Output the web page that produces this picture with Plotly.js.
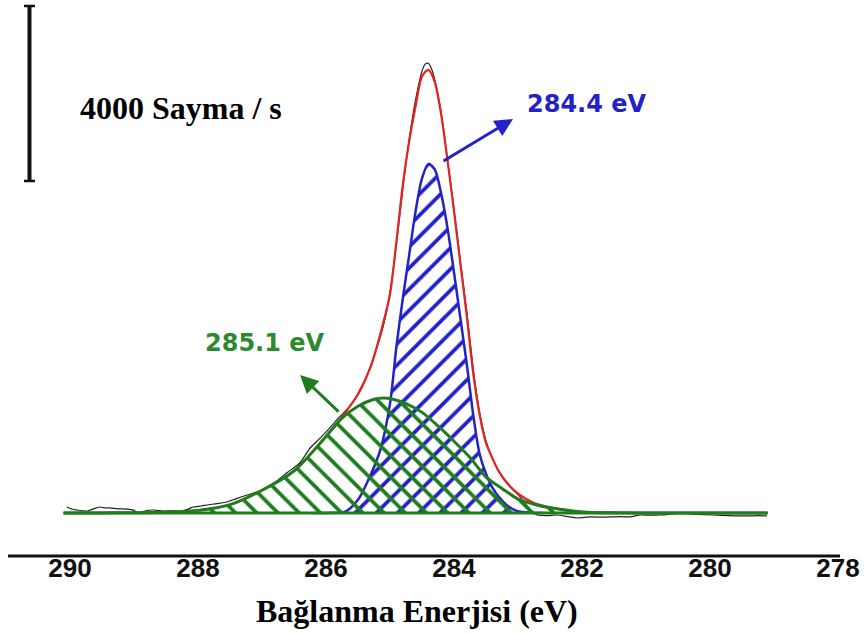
<!DOCTYPE html>
<html>
<head>
<meta charset="utf-8">
<script src="https://cdn.plot.ly/plotly-3.0.1.min.js"></script>
<style>html,body{margin:0;padding:0;background:#fff;}#chart{width:867px;height:634px;}</style>
</head>
<body>
<div id="chart"></div>
<script>
// Binding energy (eV) and intensity (counts above background)
const blackX = [290.05,289.95,289.89,289.8,289.73,289.6,289.53,289.45,289.375,289.25,289.11,289.0,288.94,288.85,288.7,288.55,288.4,288.28,288.15,288.08,287.95,287.86,287.7,287.55,287.4,287.23,287.1,286.98,286.8,286.6,286.41,286.25,286.1,285.95,285.8,285.65,285.5,285.4,285.3,285.2,285.1,285.0,284.9,284.8,284.7,284.6,284.5,284.45,284.4,284.35,284.3,284.2,284.1,284.0,283.9,283.8,283.7,283.6,283.5,283.4,283.3,283.15,283.0,282.9,282.81,282.7,282.55,282.39,282.2,282.08,281.875,281.7,281.52,281.4,281.25,281.09,280.95,280.78,280.6,280.47,280.2,279.95,279.7,279.42,279.25,279.11];
const blackY = [137,80,69,50,46,110,137,115,115,95,90,60,0,40,69,46,50,46,90,137,160,183,215,251,330,411,470,526,700,930,1143,1480,1700,1930,2180,2400,2700,2980,3380,3800,4300,5050,6150,7400,8550,9450,10100,10260,10280,10150,9900,9150,8050,6950,5750,4600,3300,2300,1650,1250,950,640,420,250,69,-46,-60,-46,-90,-114,-90,-95,-90,-85,-90,-46,-50,-46,-20,0,-30,-46,-60,-68,-60,-68];

const envX = [290.1,289.0,288.5,288.0,287.5,287.0,286.5,286.0,285.75,285.5,285.3,285.15,285.0,284.9,284.8,284.7,284.6,284.5,284.4,284.3,284.2,284.1,284.0,283.9,283.8,283.7,283.6,283.5,283.4,283.3,283.15,283.0,282.75,282.5,282.0,281.5,281.0,279.1];
const envY = [0,5,15,60,190,520,960,1750,2195,2720,3350,4100,5000,6200,7500,8500,9300,9980,10130,9850,9100,8050,6900,5700,4500,3200,2250,1600,1250,950,650,440,230,130,25,5,0,0];

const c1X = [286.2,285.9,285.7,285.5,285.3,285.15,285.0,284.9,284.8,284.7,284.6,284.5,284.4,284.3,284.2,284.1,284.0,283.9,283.8,283.7,283.6,283.5,283.4,283.3,283.15,283.0,282.8,282.6];
const c1Y = [0,5,30,300,880,1450,2500,3800,4900,5900,6900,7650,7980,7850,7300,6500,5500,4450,3400,2250,1350,900,580,370,150,40,5,0];

const c2X = [290.1,289.5,289.0,288.5,288.0,287.5,287.0,286.5,286.0,285.75,285.5,285.25,285.1,285.0,284.75,284.5,284.25,284.0,283.75,283.5,283.25,283.0,282.75,282.5,282.0,281.5,281.0,279.1];
const c2Y = [0,2,5,15,60,190,520,960,1750,2170,2440,2600,2629,2615,2500,2300,1990,1640,1270,820,560,320,200,120,25,5,0,0];

const baseX = [290.1,279.1];
const baseY = [0,0];

const tickVals = [290,288,286,284,282,280,278];
const tickText = ['290','288','286','284','282','280','278'];

const labelC1 = '284.4 eV';
const labelC2 = '285.1 eV';
const scaleLabel = '4000 Sayma / s';
const scaleCounts = 4000;
const xTitle = 'Bağlanma Enerjisi (eV)';

const BLUE = '#2222c8';
const GREEN = '#1f7d1f';
const RED = '#e32222';

const traces = [
  {x: blackX, y: blackY, type: 'scatter', mode: 'lines', line: {color: '#222', width: 1.2, shape: 'spline', smoothing: 0.6}, hoverinfo: 'skip'},
  {x: envX, y: envY, type: 'scatter', mode: 'lines', line: {color: RED, width: 2.2, shape: 'spline', smoothing: 0.8}, hoverinfo: 'skip'},
  {x: c1X, y: c1Y, type: 'scatter', mode: 'lines', fill: 'tozeroy', fillcolor: 'rgba(0,0,0,0)',
   fillpattern: {shape: '/', fgcolor: BLUE, bgcolor: 'rgba(0,0,0,0)', size: 15, solidity: 0.25},
   line: {color: BLUE, width: 2.5, shape: 'spline', smoothing: 0.8}, hoverinfo: 'skip'},
  {x: c2X, y: c2Y, type: 'scatter', mode: 'lines', fill: 'tozeroy', fillcolor: 'rgba(0,0,0,0)',
   fillpattern: {shape: '\\', fgcolor: GREEN, bgcolor: 'rgba(0,0,0,0)', size: 15, solidity: 0.25},
   line: {color: GREEN, width: 3, shape: 'spline', smoothing: 0.8}, hoverinfo: 'skip'},
  {x: baseX, y: baseY, type: 'scatter', mode: 'lines', line: {color: GREEN, width: 3}, hoverinfo: 'skip'}
];

const scaleTop = 11589;
const layout = {
  width: 867, height: 634,
  margin: {l: 62, r: 29, t: 0, b: 78},
  paper_bgcolor: '#fff', plot_bgcolor: '#fff',
  showlegend: false,
  xaxis: {range: [290.125, 278], showgrid: false, zeroline: false, showline: false, ticks: '',
          tickvals: tickVals, ticktext: tickText, ticklabelstandoff: -6,
          tickfont: {family: 'Liberation Sans, Arial, sans-serif', size: 26, color: '#111', weight: 'bold'}},
  yaxis: {range: [-983, 11726], visible: false},
  shapes: [
    {type: 'line', xref: 'paper', yref: 'paper', x0: -0.0696, x1: 1.0026, y0: 0, y1: 0, line: {color: '#111', width: 3}},
    {type: 'line', xref: 'paper', yref: 'y', x0: -0.0419, x1: -0.0419, y0: scaleTop - scaleCounts, y1: scaleTop, line: {color: '#111', width: 4}},
    {type: 'line', xref: 'paper', yref: 'y', x0: -0.0490, x1: -0.0348, y0: scaleTop, y1: scaleTop, line: {color: '#111', width: 2.5}},
    {type: 'line', xref: 'paper', yref: 'y', x0: -0.0490, x1: -0.0348, y0: scaleTop - scaleCounts, y1: scaleTop - scaleCounts, line: {color: '#111', width: 2.5}}
  ],
  annotations: [
    {text: '<b>' + scaleLabel + '</b>', xref: 'paper', yref: 'y', x: 0.0206, y: 9257, xanchor: 'left', yanchor: 'middle', showarrow: false,
     font: {family: 'Liberation Serif, Times New Roman, serif', size: 32, color: '#000'}},
    {text: '<b>' + xTitle + '</b>', xref: 'paper', yref: 'paper', x: 0.4575, y: -0.0989, xanchor: 'center', yanchor: 'middle', showarrow: false,
     font: {family: 'Liberation Serif, Times New Roman, serif', size: 32, color: '#000'}},
    {text: '<b>' + labelC1 + '</b>', xref: 'x', yref: 'y', x: 281.92, y: 9360, xanchor: 'center', yanchor: 'middle', showarrow: false,
     font: {family: 'DejaVu Sans, sans-serif', size: 24, color: BLUE}},
    {text: '<b>' + labelC2 + '</b>', xref: 'x', yref: 'y', x: 286.95, y: 3886, xanchor: 'center', yanchor: 'middle', showarrow: false,
     font: {family: 'DejaVu Sans, sans-serif', size: 24, color: '#2b8a2b'}},
    {text: '', xref: 'x', yref: 'y', x: 283.078, y: 9006, ax: -71, ay: 43, showarrow: true, arrowhead: 2, arrowsize: 1.2, arrowwidth: 3, arrowcolor: BLUE, standoff: 0, startstandoff: 0},
    {text: '', xref: 'x', yref: 'y', x: 286.406, y: 3154, ax: 40, ay: 38, showarrow: true, arrowhead: 2, arrowsize: 1.2, arrowwidth: 3, arrowcolor: GREEN, standoff: 0, startstandoff: 0}
  ]
};

Plotly.newPlot('chart', traces, layout, {displayModeBar: false, staticPlot: true});
</script>
</body>
</html>
